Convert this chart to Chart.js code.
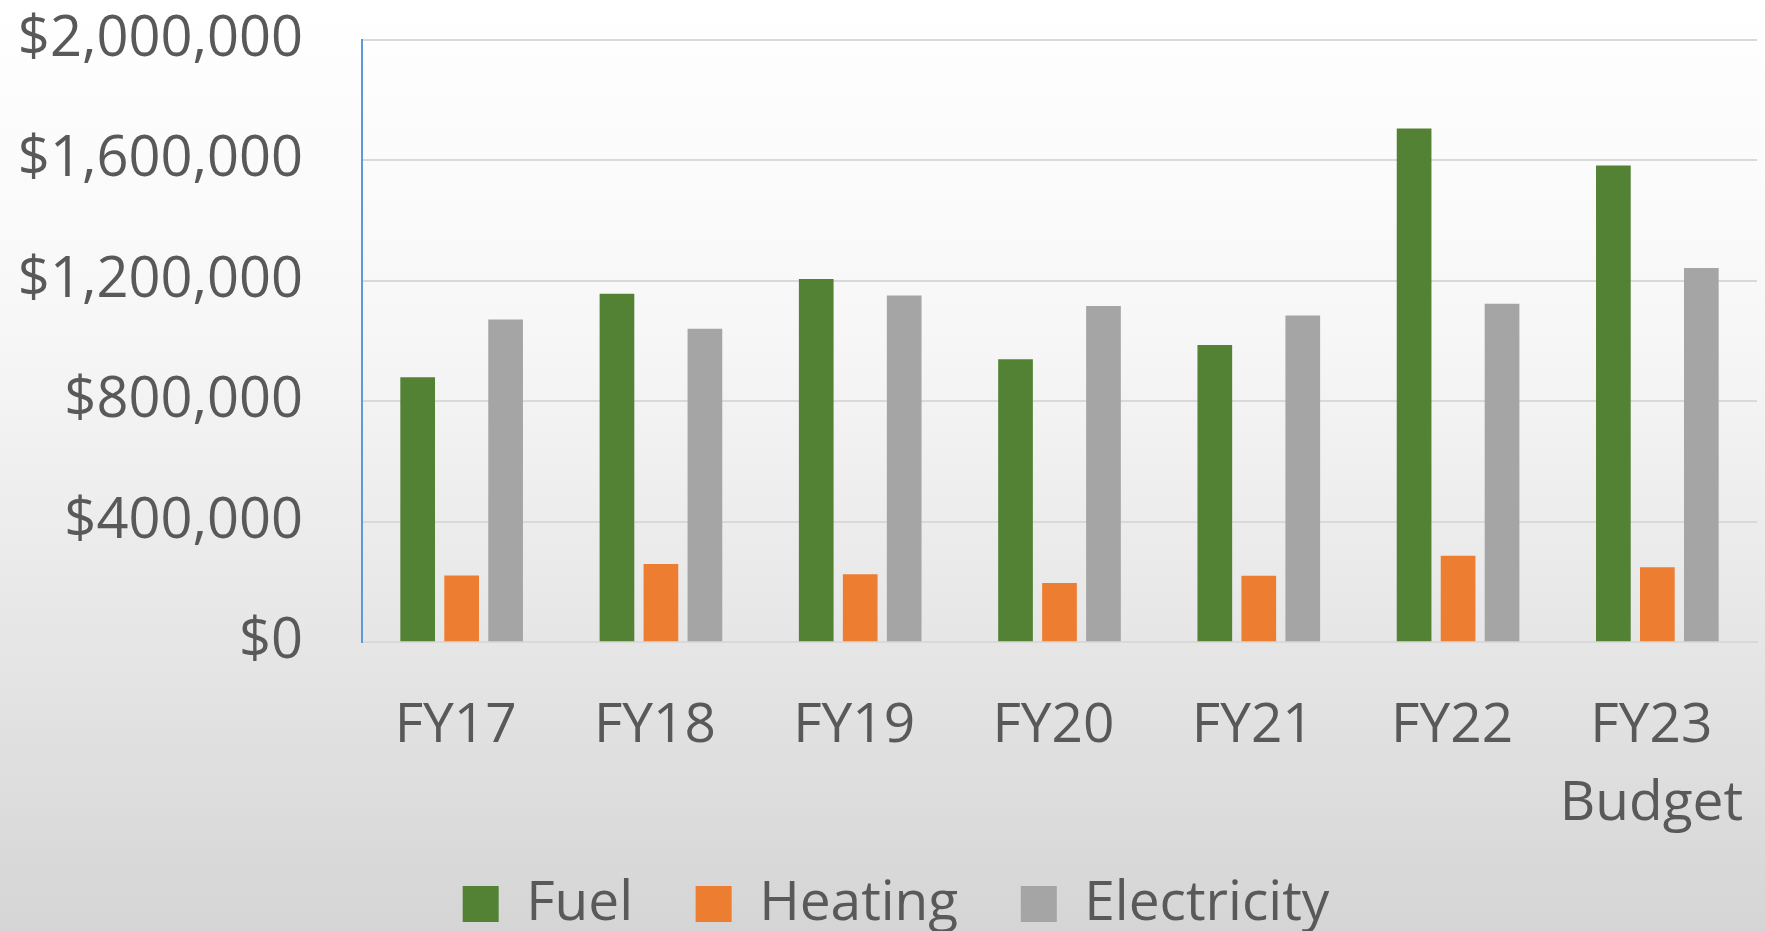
<!DOCTYPE html>
<html>
<head>
<meta charset="utf-8">
<script src="https://cdn.jsdelivr.net/npm/chart.js@4"></script>
<style>
  html, body { margin: 0; padding: 0; background: #ffffff; overflow: hidden; }
  #wrap { width: 1765px; height: 931px; }
</style>
</head>
<body>
<div id="wrap"><canvas id="c" width="1765" height="931"></canvas></div>
<script>
const categories = [["FY17"], ["FY18"], ["FY19"], ["FY20"], ["FY21"], ["FY22"], ["FY23", "Budget"]];
const fuel =        [880000, 1157000, 1206000, 940000, 987000, 1706000, 1583000];
const heating =     [222000, 260000, 226000, 197000, 221000, 287000, 249000];
const electricity = [1072000, 1041000, 1152000, 1117000, 1085000, 1124000, 1243000];
const seriesNames = ["Fuel", "Heating", "Electricity"];
const yMin = 0, yMax = 2000000, yStep = 400000;

const TEXT = '#595959';
const FONT = "'Open Sans', 'Noto Sans', sans-serif";

const bgPlugin = {
  id: 'bg',
  beforeDraw(chart) {
    const ctx = chart.ctx;
    const g = ctx.createLinearGradient(0, 0, 0, chart.height);
    g.addColorStop(0, '#ffffff');
    g.addColorStop(0.35, '#f7f7f7');
    g.addColorStop(0.69, '#e6e6e6');
    g.addColorStop(1, '#d5d5d5');
    ctx.save();
    ctx.fillStyle = g;
    ctx.fillRect(0, 0, chart.width, chart.height);
    ctx.restore();
  }
};

new Chart(document.getElementById('c'), {
  type: 'bar',
  data: {
    labels: categories,
    datasets: [
      { label: seriesNames[0], data: fuel, backgroundColor: '#548235' },
      { label: seriesNames[1], data: heating, backgroundColor: '#ED7D31' },
      { label: seriesNames[2], data: electricity, backgroundColor: '#A5A5A5' }
    ]
  },
  options: {
    responsive: false,
    devicePixelRatio: 1,
    animation: false,
    categoryPercentage: 0.662,
    barPercentage: 0.789,
    layout: { padding: { top: 40, right: 8, left: 35, bottom: -10.5 } },
    plugins: {
      tooltip: { enabled: false },
      legend: {
        position: 'bottom',
        labels: {
          color: TEXT,
          font: { family: FONT, size: 55 },
          boxWidth: 36,
          boxHeight: 36,
          padding: 34,
          generateLabels(chart) {
            const items = Chart.defaults.plugins.legend.labels.generateLabels(chart);
            items.forEach((it, i) => { if (i < items.length - 1) it.text = it.text + '  '; });
            return items;
          }
        }
      }
    },
    scales: {
      x: {
        grid: { display: false, drawTicks: false },
        border: { display: true, color: '#d9d9d9', width: 2 },
        ticks: {
          color: TEXT,
          font: { family: FONT, size: 55, lineHeight: 1.413 },
          padding: 45,
          labelOffset: -6,
          maxRotation: 0,
          autoSkip: false
        },
        afterFit(scale) {
          scale.height = 200.2;
          scale.paddingLeft = 0;
          scale.paddingRight = 0;
        }
      },
      y: {
        min: yMin,
        max: yMax,
        grid: { color: '#d9d9d9', lineWidth: 2, drawTicks: false },
        border: { display: true, color: '#5B9BD5', width: 2 },
        ticks: {
          stepSize: yStep,
          color: TEXT,
          font: { family: FONT, size: 56 },
          padding: 59,
          callback: (v) => '$' + Number(v).toLocaleString('en-US')
        },
        afterFit(scale) {
          scale.width = 327;
          scale.paddingTop = 0;
          scale.paddingBottom = 0;
          scale._computeLabelArea = () => null;
        }
      }
    }
  },
  plugins: [bgPlugin]
});
</script>
</body>
</html>
